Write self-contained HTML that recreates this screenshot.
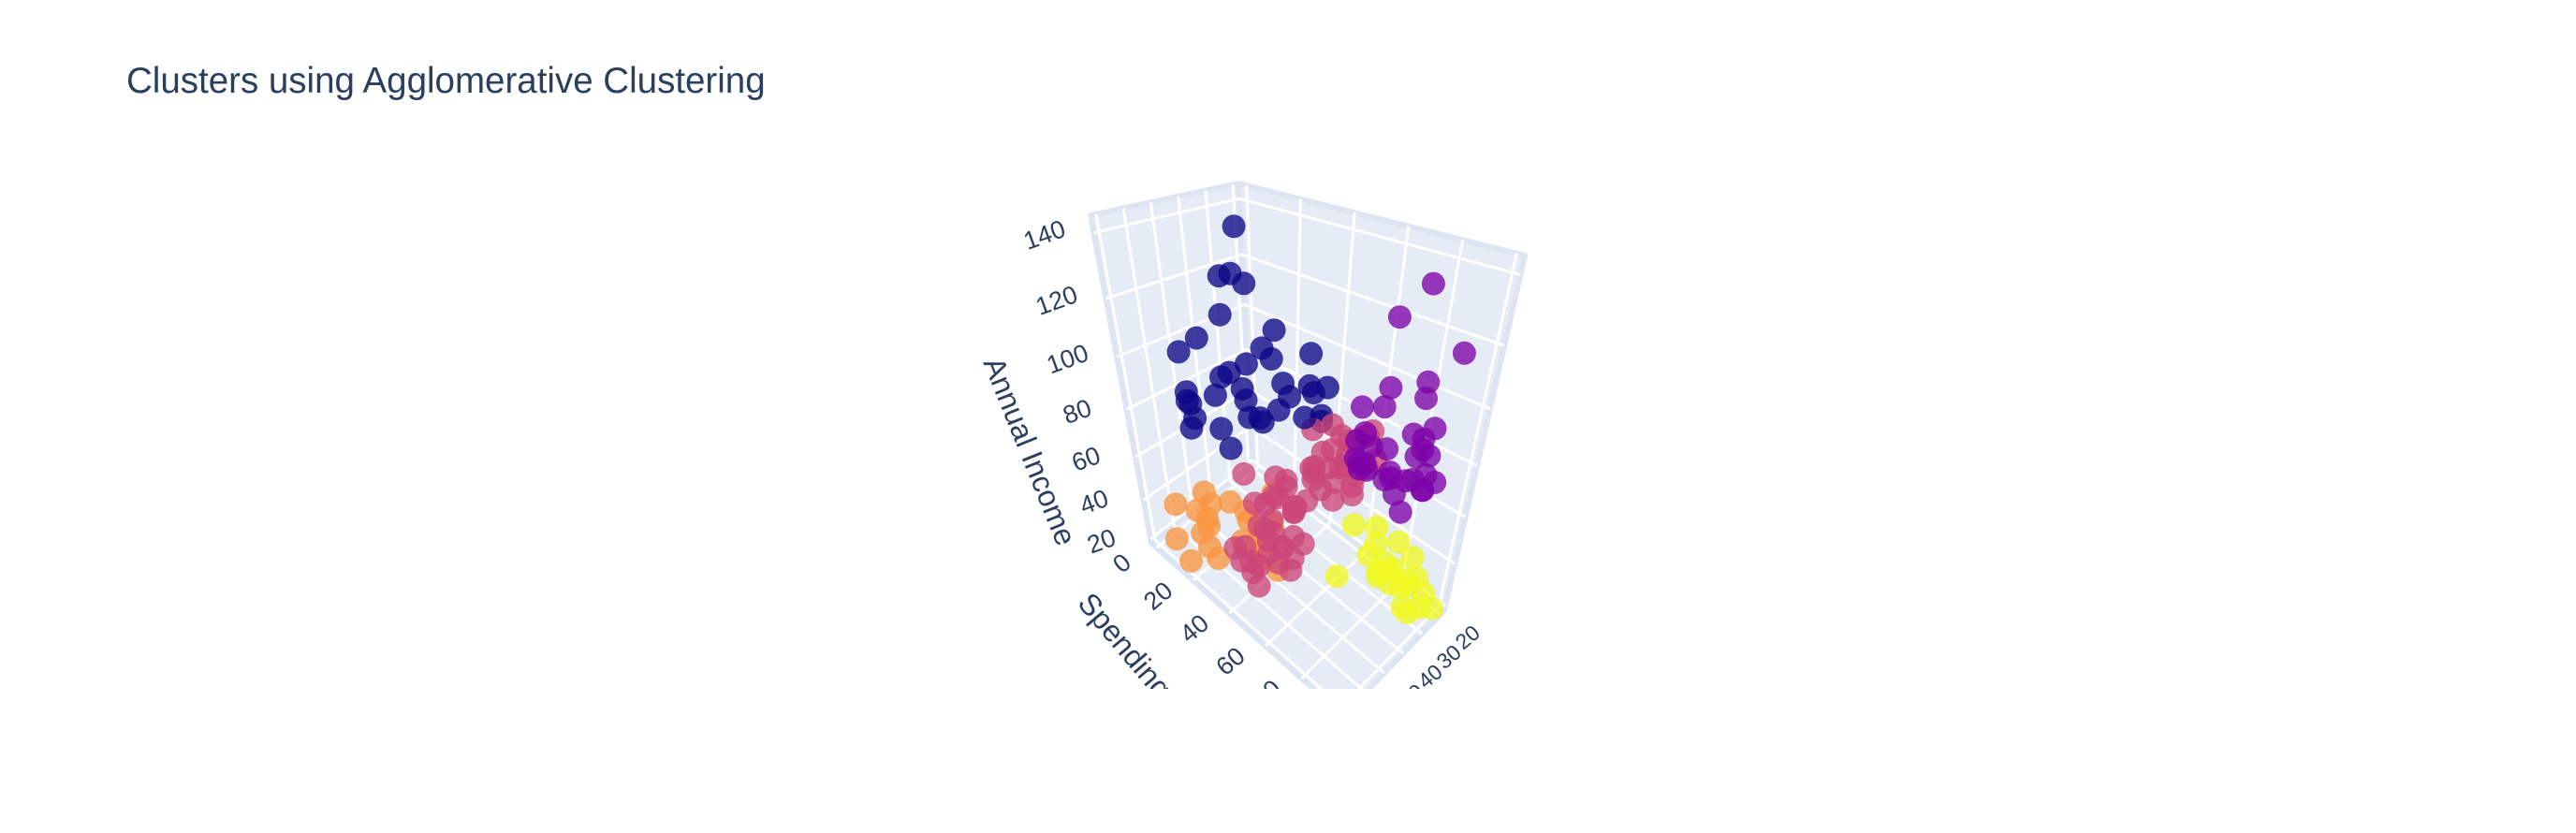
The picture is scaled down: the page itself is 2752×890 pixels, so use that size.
<!DOCTYPE html>
<html><head><meta charset="utf-8">
<style>
html,body{margin:0;padding:0;background:#fff;}
svg{display:block;}
text{font-family:"Liberation Sans",Arial,sans-serif;fill:#2a3f5f;}
</style></head>
<body>
<svg id="chart" width="2752" height="890" viewBox="0 0 2752 890" xmlns="http://www.w3.org/2000/svg">
  <rect x="0" y="0" width="2752" height="890" fill="#fff"/>
  <text x="135" y="99" font-size="38.5">Clusters using Agglomerative Clustering</text>
  <defs><clipPath id="sceneClip"><rect x="0" y="0" width="2752" height="736"/></clipPath></defs>
  <g id="scene" clip-path="url(#sceneClip)">
    <g id="panes"></g>
    <g id="grid"></g>
    <g id="points"></g>
    <g id="ticks"></g>
    <text x="1098" y="483" font-size="32" text-anchor="middle" dominant-baseline="middle" transform="rotate(68 1098 483)">Annual Income</text>
    <text x="1150" y="645" font-size="32" transform="rotate(50 1150 645)">Spending Score</text>
  </g>
</svg>
<script>
// ---- data: per cluster (Age, Spending Score, Annual Income) ----
const c0Age   = [32,41,35,34,45,28,39,46,37,53,24,49,44,40,36,57,50,47,33,58,43,55,38,42,51,59,26,30,48,54,21,20,19,22,40,35];
const c0Spend = [9,16,5,14,15,20,26,5,28,4,32,18,22,12,35,10,36,28,39,14,8,23,17,29,3,13,40,24,1,26,35,30,27,38,20,31];
const c0Inc   = [137,126,120,120,113,103,103,101,99,98,97,93,88,88,87,87,86,81,79,79,78,78,78,77,77,75,74,73,73,71,71,78,79,85,95,90];

const c1Age   = [30,32,28,36,31,29,35,33,38,32,27,36,34,39,30,33,40,31,37,29,35,38,34,32,36,28,30,39,33,31,27,35,29,32];
const c1Spend = [83,74,97,92,73,86,75,95,91,63,86,69,90,75,92,63,83,97,71,91,88,73,95,78,68,85,77,91,82,63,71,65,88,93];
const c1Inc   = [137,126,120,113,103,103,99,98,97,93,88,88,87,87,86,81,79,79,78,78,78,77,77,75,74,73,71,70,69,71,78,76,86,75];

const c2Age   = [18,19,20,21,22,23,24,25,26,27,29,31,33,35,38,40,43,45,47,48,49,50,51,52,53,54,55,56,57,58,59,60,63,65,66,67,68,69,70,18,19,21,23,26,27,30,32,34,36,38,41,44,47,49,50,54,59,63,67,70];
const c2Spend = [59,55,47,51,42,57,55,52,50,46,60,41,48,56,49,42,54,47,45,50,52,43,58,40,55,46,51,48,35,59,42,45,53,50,56,48,41,47,55,56,43,58,50,45,53,60,42,49,57,36,52,46,55,40,44,51,47,58,43,52];
const c2Inc   = [62,71,54,67,60,74,48,65,59,76,63,57,69,54,61,46,72,50,64,43,58,66,47,54,40,62,44,49,67,41,60,53,48,42,57,44,46,51,40,73,65,60,69,56,62,59,75,54,63,50,67,49,61,45,58,43,52,47,41,44];

const c3Age   = [45,50,64,67,58,37,52,46,54,60,45,40,49,57,63,48,35,59,53,42,65,55];
const c3Spend = [39,6,3,14,15,13,35,29,5,14,32,31,4,14,4,17,26,35,12,20,28,40];
const c3Inc   = [16,17,19,19,20,20,23,25,28,28,29,30,33,33,37,37,38,39,36,25,30,34];

const c4Age   = [20,22,23,21,24,19,35,25,23,31,22,20,24,35,26,18,30,21,32,29,27,22];
const c4Spend = [81,77,94,99,72,92,61,73,87,92,73,66,79,98,88,75,82,66,73,95,60,86];
const c4Inc   = [16,17,18,19,19,20,21,23,24,24,25,28,28,29,30,33,34,37,37,38,39,36];

const clusterColors = ["#0d0887","#7e03a8","#cc4778","#f89540","#f0f921"];
const xTicks = [20,30,40,50,60,70];
const yTicks = [0,20,40,60,80,100];
const zTicks = [20,40,60,80,100,120,140];

// ---- scene geometry (screen corners of the box) ----
const X0=18,X1=72,Y0=-3,Y1=103,Z0=18,Z1=145;
const Bb=[1338,495],Lb=[1230,580],Rb=[1543,652],Fb=[1435,765];
const Bt=[1323,196],Lt=[1165,230],Rt=[1629,273],Ft=[1471,335];
const G=0.28;
function bil(P00,P10,P01,P11,a,b){
  return [0,1].map(i=>P00[i]*(1-a)*(1-b)+P10[i]*a*(1-b)+P01[i]*(1-a)*b+P11[i]*a*b);
}
function proj(x,y,z){
  const a=(x-X0)/(X1-X0), b=(y-Y0)/(Y1-Y0), t=(z-Z0)/(Z1-Z0);
  const c=t*(1-G)/(1-G*t);
  const lo=bil(Bb,Lb,Rb,Fb,a,b), hi=bil(Bt,Lt,Rt,Ft,a,b);
  return [lo[0]*(1-c)+hi[0]*c, lo[1]*(1-c)+hi[1]*c, a+b+0.5*t];
}
const NS="http://www.w3.org/2000/svg";
function mk(tag,attrs,parent){
  const e=document.createElementNS(NS,tag);
  for(const k in attrs) e.setAttribute(k,attrs[k]);
  parent.appendChild(e); return e;
}
const panes=document.getElementById('panes');
function poly(pts,name){
  const e=mk('polygon',{points:pts.map(p=>p[0]+','+p[1]).join(' '),fill:'#e5ecf6',stroke:'#dde5f2','stroke-width':6,'stroke-linejoin':'round'},panes);
  
  
}
poly([Bb,Lb,Fb,Rb],'floor-pane');
poly([Bb,Lb,Lt,Bt],'left-wall-pane');
poly([Bb,Rb,Rt,Bt],'right-wall-pane');

const grid=document.getElementById('grid');
function line(p,q,name){
  const e=mk('line',{x1:p[0],y1:p[1],x2:q[0],y2:q[1],stroke:'#fff','stroke-width':3},grid);
  
  
}
xTicks.forEach(x=>{
  line(proj(x,Y0,Z0),proj(x,Y1,Z0),'floor-grid-x');
  line(proj(x,Y0,Z0),proj(x,Y0,Z1),'left-wall-grid-x');
});
yTicks.forEach(y=>{
  line(proj(X0,y,Z0),proj(X1,y,Z0),'floor-grid-y');
  line(proj(X0,y,Z0),proj(X0,y,Z1),'right-wall-grid-y');
});
zTicks.forEach(z=>{
  line(proj(X0,Y0,z),proj(X1,Y0,z),'left-wall-grid-z');
  line(proj(X0,Y0,z),proj(X0,Y1,z),'right-wall-grid-z');
});

// ---- points ----
const clusters=[[c0Age,c0Spend,c0Inc],[c1Age,c1Spend,c1Inc],[c2Age,c2Spend,c2Inc],[c3Age,c3Spend,c3Inc],[c4Age,c4Spend,c4Inc]];
const pts=[];
clusters.forEach((cl,ci)=>{
  for(let i=0;i<cl[0].length;i++){
    const p=proj(cl[0][i],cl[1][i],cl[2][i]);
    pts.push({p:p,ci:ci});
  }
});
pts.sort((u,v)=>u.p[2]-v.p[2]);
const pg=document.getElementById('points');
pts.forEach(o=>{
  const e=mk('circle',{cx:o.p[0].toFixed(1),cy:o.p[1].toFixed(1),r:12.5,fill:clusterColors[o.ci],'fill-opacity':0.78},pg);
  
  
});

// ---- tick labels ----
const tg=document.getElementById('ticks');
function lab(p,dx,dy,rot,txt,name,fs){
  const x=p[0]+dx,y=p[1]+dy;
  const e=mk('text',{x:x.toFixed(1),y:y.toFixed(1),'font-size':fs,'text-anchor':'middle','dominant-baseline':'middle',transform:'rotate('+rot+' '+x.toFixed(1)+' '+y.toFixed(1)+')'},tg);
  e.textContent=txt;
  
  
}
zTicks.forEach(z=>lab(proj(X1,Y0,z),-52,4,-20,String(z),'z-tick-label',27));
yTicks.forEach(y=>lab(proj(X1,y,Z0),-36,18,-40,String(y),'y-tick-label',27));
xTicks.forEach(x=>lab(proj(x,Y1,Z0),30,26,-40,String(x),'x-tick-label',23));
</script>
</body></html>
